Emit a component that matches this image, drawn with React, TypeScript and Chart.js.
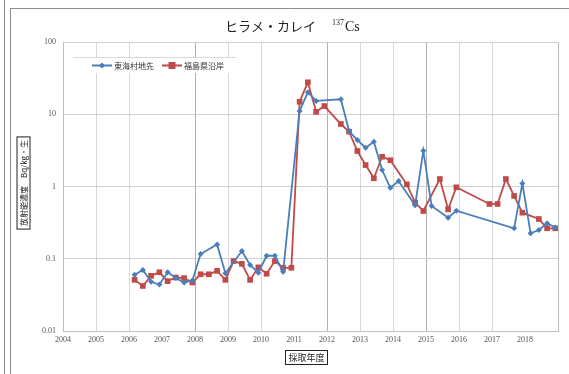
import React, { useEffect, useRef } from "react";
import { Chart, registerables } from "chart.js";

Chart.register(...registerables);

const titleMain = "ヒラメ・カレイ";
const titleSup = "137";
const titleIso = "Cs";
const yTitle = "放射能濃度　Bq/kg・生";
const xTitle = "採取年度";
const seriesNames = ["東海村地先", "福島県沿岸"];
const yTickValues = [0.01, 0.1, 1, 10, 100];
const yTickLabels = ["0.01", "0.1", "1", "10", "100"];
const xTickLabels = ["2004", "2005", "2006", "2007", "2008", "2009", "2010", "2011", "2012", "2013", "2014", "2015", "2016", "2017", "2018"];

const tokaiX = [2006.17, 2006.42, 2006.67, 2006.92, 2007.17, 2007.42, 2007.67, 2007.92, 2008.17, 2008.67, 2008.92, 2009.42, 2009.67, 2009.92, 2010.17, 2010.42, 2010.67, 2011.17, 2011.42, 2011.67, 2012.42, 2012.67, 2012.92, 2013.17, 2013.42, 2013.67, 2013.92, 2014.17, 2014.67, 2014.92, 2015.17, 2015.67, 2015.92, 2017.67, 2017.92, 2018.17, 2018.42, 2018.67, 2018.92];
const tokaiY = [0.06, 0.07, 0.048, 0.044, 0.065, 0.054, 0.047, 0.05, 0.116, 0.158, 0.063, 0.128, 0.082, 0.064, 0.11, 0.11, 0.066, 11.1, 20.1, 15.3, 16.1, 5.86, 4.4, 3.44, 4.17, 1.69, 0.96, 1.19, 0.55, 3.13, 0.537, 0.37, 0.462, 0.264, 1.1, 0.225, 0.25, 0.31, 0.27];

const fukuX = [2006.17, 2006.42, 2006.67, 2006.92, 2007.17, 2007.42, 2007.67, 2007.92, 2008.17, 2008.42, 2008.67, 2008.92, 2009.17, 2009.42, 2009.67, 2009.92, 2010.17, 2010.42, 2010.67, 2010.92, 2011.17, 2011.42, 2011.67, 2011.92, 2012.42, 2012.67, 2012.92, 2013.17, 2013.42, 2013.67, 2013.92, 2014.42, 2014.67, 2014.92, 2015.42, 2015.67, 2015.92, 2016.92, 2017.17, 2017.42, 2017.67, 2017.92, 2018.42, 2018.67, 2018.92];
const fukuY = [0.051, 0.042, 0.058, 0.065, 0.049, 0.055, 0.054, 0.047, 0.061, 0.061, 0.068, 0.051, 0.093, 0.085, 0.051, 0.076, 0.062, 0.093, 0.075, 0.075, 14.9, 27.7, 10.8, 13.0, 7.33, 5.73, 3.1, 1.98, 1.3, 2.58, 2.31, 1.07, 0.6, 0.458, 1.27, 0.483, 0.975, 0.573, 0.573, 1.27, 0.74, 0.434, 0.355, 0.264, 0.264];

const BLUE = "#4a7ebb";
const RED = "#be4b48";
const hiddenGrid = [2007, 2011, 2018];
const darkGrid = [2008, 2012, 2015];

const overlay = {
  id: "overlay",
  beforeDraw(chart: any) {
    const ctx = chart.ctx;
    ctx.save();
    ctx.fillStyle = "#ffffff";
    ctx.fillRect(0, 0, chart.width, chart.height);
    ctx.restore();
  },
  afterDraw(chart: any) {
    const ctx = chart.ctx;
    ctx.save();
    // frame lines
    ctx.strokeStyle = "#8c8c8c";
    ctx.lineWidth = 1;
    ctx.beginPath();
    ctx.moveTo(4.5, 0);
    ctx.lineTo(4.5, 374);
    ctx.moveTo(10.5, 8);
    ctx.lineTo(10.5, 374);
    ctx.moveTo(10, 8.5);
    ctx.lineTo(569, 8.5);
    ctx.stroke();

    // title
    ctx.fillStyle = "#222";
    ctx.textBaseline = "alphabetic";
    ctx.textAlign = "left";
    ctx.font = '13px "Noto Sans CJK JP"';
    ctx.fillText(titleMain, 225, 31);
    ctx.font = '8px "Liberation Serif"';
    ctx.fillText(titleSup, 332, 25);
    ctx.font = '14px "Liberation Serif"';
    ctx.fillText(titleIso, 345, 31);

    // legend box
    ctx.fillStyle = "#ffffff";
    ctx.fillRect(73, 57, 163, 16);
    ctx.strokeStyle = "#d9d9d9";
    ctx.beginPath();
    ctx.moveTo(73, 57.5);
    ctx.lineTo(236, 57.5);
    ctx.stroke();
    const items = [
      { x: 92, color: BLUE, name: seriesNames[0], shape: "d" },
      { x: 162, color: RED, name: seriesNames[1], shape: "s" },
    ];
    items.forEach((it) => {
      ctx.strokeStyle = it.color;
      ctx.lineWidth = 2;
      ctx.beginPath();
      ctx.moveTo(it.x, 65.5);
      ctx.lineTo(it.x + 20, 65.5);
      ctx.stroke();
      ctx.fillStyle = it.color;
      if (it.shape === "d") {
        ctx.beginPath();
        ctx.moveTo(it.x + 10, 62.5);
        ctx.lineTo(it.x + 13, 65.5);
        ctx.lineTo(it.x + 10, 68.5);
        ctx.lineTo(it.x + 7, 65.5);
        ctx.closePath();
        ctx.fill();
      } else {
        ctx.fillRect(it.x + 6.5, 62, 7, 7);
      }
      ctx.fillStyle = "#333";
      ctx.font = '8px "Noto Sans CJK JP"';
      ctx.textBaseline = "middle";
      ctx.fillText(it.name, it.x + 22, 66);
    });

    // y title (rotated, boxed)
    ctx.save();
    ctx.translate(23.5, 183);
    ctx.rotate(-Math.PI / 2);
    ctx.font = '8px "Noto Sans CJK JP"';
    ctx.textAlign = "center";
    ctx.textBaseline = "middle";
    const yw = ctx.measureText(yTitle).width;
    ctx.strokeStyle = "#222";
    ctx.lineWidth = 1;
    ctx.strokeRect(-yw / 2 - 3, -6.5, yw + 6, 13);
    ctx.fillStyle = "#222";
    ctx.fillText(yTitle, 0, 0.5);
    ctx.restore();

    // x title boxed
    ctx.font = '9px "Noto Sans CJK JP"';
    ctx.textAlign = "center";
    ctx.textBaseline = "middle";
    const xw = ctx.measureText(xTitle).width;
    ctx.strokeStyle = "#222";
    ctx.lineWidth = 1;
    ctx.strokeRect(306 - xw / 2 - 3 + 0.5, 350.5, xw + 6, 14);
    ctx.fillStyle = "#222";
    ctx.fillText(xTitle, 306.5, 358);
    ctx.restore();
  },
};

export default function App() {
  const ref = useRef<HTMLCanvasElement>(null);
  useEffect(() => {
    document.body.style.margin = "0";
    const tokai = tokaiX.map((x, i) => ({ x, y: tokaiY[i] }));
    const fuku = fukuX.map((x, i) => ({ x, y: fukuY[i] }));
    const chart = new Chart(ref.current as HTMLCanvasElement, {
      type: "line",
      data: {
        datasets: [
          {
            label: seriesNames[0],
            data: tokai,
            borderColor: BLUE,
            backgroundColor: BLUE,
            borderWidth: 1.8,
            pointStyle: "rectRot",
            pointRadius: 3,
            pointBorderWidth: 0,
            tension: 0,
          },
          {
            label: seriesNames[1],
            data: fuku,
            borderColor: RED,
            backgroundColor: RED,
            borderWidth: 1.8,
            pointStyle: "rect",
            pointRadius: 4,
            pointBorderWidth: 0,
            tension: 0,
          },
        ],
      },
      options: {
        responsive: false,
        animation: false,
        layout: { padding: { top: 42, right: 11, left: 0, bottom: 0 } },
        plugins: { legend: { display: false }, title: { display: false }, tooltip: { enabled: false } },
        scales: {
          x: {
            type: "linear",
            min: 2004,
            max: 2019,
            afterBuildTicks: (s: any) => {
              const t = [];
              for (let v = 2004; v <= 2019; v++) t.push({ value: v });
              s.ticks = t;
            },
            afterFit: (s: any) => {
              s.height = 43;
            },
            ticks: {
              callback: (v: any) => {
                const i = Math.round(v) - 2004;
                return i >= 0 && i < xTickLabels.length ? xTickLabels[i] : "";
              },
              maxRotation: 0,
              autoSkip: false,
              padding: 4,
              color: "#555",
              font: { family: "Liberation Serif", size: 8 },
            },
            grid: {
              drawTicks: false,
              color: (c: any) => {
                const v = c.tick ? Math.round(c.tick.value) : 0;
                if (v === 2004 || v === 2019) return "#bfbfbf";
                if (hiddenGrid.includes(v)) return "rgba(0,0,0,0)";
                if (darkGrid.includes(v)) return "#b0b0b0";
                return "#d9d9d9";
              },
            },
            border: { color: "#bfbfbf" },
          },
          y: {
            type: "logarithmic",
            min: 0.01,
            max: 100,
            afterBuildTicks: (s: any) => {
              s.ticks = yTickValues.map((v) => ({ value: v }));
            },
            afterFit: (s: any) => {
              s.width = 63;
            },
            ticks: {
              callback: (v: any) => {
                const i = yTickValues.findIndex((t) => Math.abs(t - v) < t * 1e-6);
                return i >= 0 ? yTickLabels[i] : "";
              },
              padding: 7,
              color: "#555",
              font: { family: "Liberation Serif", size: 8 },
            },
            grid: { drawTicks: false, color: "#d0d0d0" },
            border: { color: "#bfbfbf" },
          },
        },
      } as any,
      plugins: [overlay],
    });
    return () => chart.destroy();
  }, []);
  return (
    <div style={{ position: "absolute", left: 0, top: 0, width: 569, height: 374 }}>
      <canvas ref={ref} width={569} height={374} />
    </div>
  );
}
